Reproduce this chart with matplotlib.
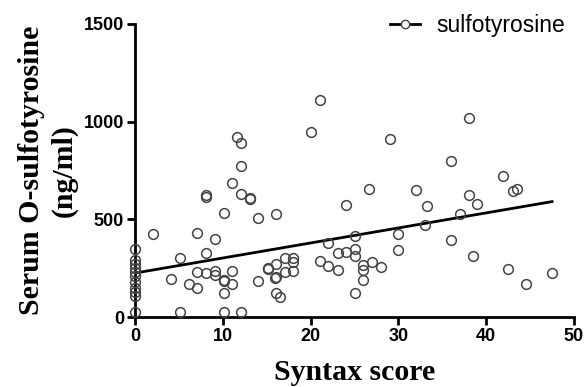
import numpy as np
import matplotlib.pyplot as plt

# syntax score vs serum O-sulfotyrosine (ng/ml)
syntax = [0, 0, 0, 0, 0, 0, 0, 0, 0, 0, 0,
          2.1, 4.1, 5.1, 5.1, 6.1, 7.1, 7.1, 7.1, 8.1, 8.1, 8.1, 8.1,
          9.1, 9.1, 9.1, 10.1, 10.1, 10.1, 10.1, 10.1, 11.1, 11.1, 11.1,
          11.6, 12.1, 12.1, 12.1, 12.1, 13.1, 13.1, 14.0, 14.0,
          15.1, 15.1, 15.9, 16.1, 16.1, 16.1, 16.1, 16.5, 17.1, 17.1,
          18.0, 18.0, 18.0, 20.0, 21.1, 21.1, 22.0, 22.0, 23.1, 23.1,
          24.0, 24.0, 25.1, 25.1, 25.1, 25.1, 26.0, 26.0, 26.0, 26.6,
          27.0, 28.0, 29.0, 30.0, 30.0, 32.0, 33.0, 33.3,
          36.0, 36.0, 37.0, 38.0, 38.0, 38.5, 39.0, 41.9, 42.5, 43.0,
          43.5, 44.5, 47.5]
sulfo = [350, 290, 270, 250, 230, 210, 180, 150, 130, 110, 25,
         423, 196, 302, 27, 170, 431, 228, 148, 328, 613, 225, 627,
         397, 234, 216, 534, 191, 183, 125, 27, 237, 170, 686,
         921, 892, 775, 632, 27, 603, 607, 508, 182,
         247, 252, 199, 526, 272, 205, 125, 101, 302, 229,
         300, 280, 237, 947, 1113, 289, 380, 259, 328, 242,
         331, 572, 414, 349, 311, 122, 268, 242, 187, 655,
         280, 256, 909, 423, 345, 651, 469, 570,
         800, 393, 526, 1021, 627, 314, 577, 720, 247, 643,
         655, 168, 225]

# regression line as drawn in the figure
fit_intercept = 225
fit_slope = 7.7

x = np.array(syntax)
y = np.array(sulfo)
xfit = np.array([0, x.max()])

fig = plt.figure(figsize=(5.87, 3.87), dpi=100)
ax = fig.add_axes([135 / 587, 1 - 317 / 387, 439 / 587, 293 / 387])

ax.plot(xfit, fit_intercept + fit_slope * xfit, color="black", lw=2, zorder=2)
ax.plot(x, y, "o", ms=7, mfc="none", mec="#444444", mew=1.1,
        clip_on=False, zorder=3)

# legend entry: line with an open circle
ax.plot([], [], "-o", color="black", lw=2, ms=6, mfc="white",
        mec="#444444", mew=1.0, label="sulfotyrosine")
leg = ax.legend(loc="upper right", frameon=False, handlelength=1.3,
                handletextpad=0.7,
                prop={"family": "Liberation Sans", "size": 16.5},
                bbox_to_anchor=(1.0, 1.066), borderaxespad=0)

ax.set_xlim(0, 50)
ax.set_ylim(0, 1500)
ax.set_xticks([0, 10, 20, 30, 40, 50])
ax.set_yticks([0, 500, 1000, 1500])
for s in ["top", "right"]:
    ax.spines[s].set_visible(False)
for s in ["left", "bottom"]:
    ax.spines[s].set_linewidth(2)
ax.tick_params(width=2, length=6, direction="out", pad=2)
for lab in ax.get_xticklabels() + ax.get_yticklabels():
    lab.set_family("Liberation Sans")
    lab.set_fontweight("bold")
    lab.set_fontsize(13)

ax.set_xlabel("Syntax score", family="Liberation Serif", fontweight="bold",
              fontsize=21.5, labelpad=10)
ax.set_ylabel("Serum O-sulfotyrosine\n(ng/ml)", family="Liberation Serif",
              fontweight="bold", fontsize=21.5, labelpad=4, linespacing=1.25)

fig.savefig("out.png", dpi=100)
